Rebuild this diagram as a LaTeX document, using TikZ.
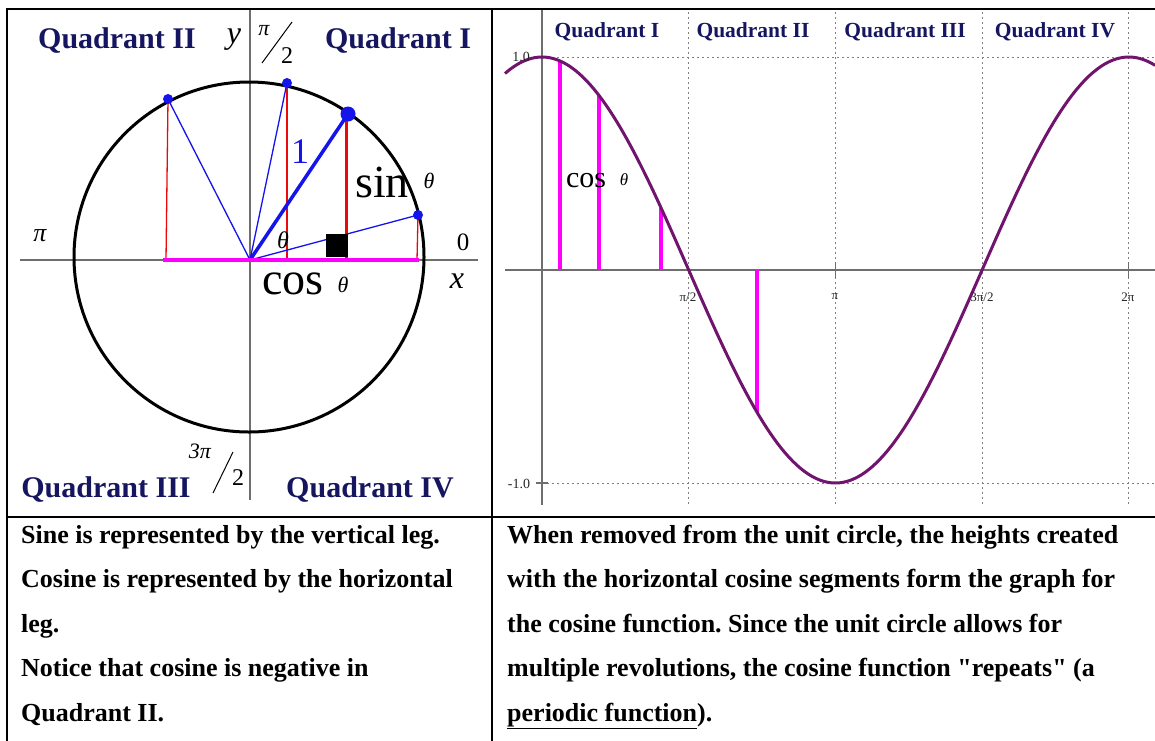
\documentclass[tikz,border=0pt]{standalone}
\usepackage{fontspec}
\setmainfont{Liberation Serif}[Ligatures=TeXOff]
\usetikzlibrary{calc}
\frenchspacing
\definecolor{navy}{RGB}{22,22,96}
\definecolor{axisgray}{RGB}{110,110,110}
\definecolor{blueline}{RGB}{20,20,235}
\definecolor{redline}{RGB}{235,10,10}
\definecolor{mag}{RGB}{255,0,255}
\definecolor{purp}{RGB}{112,20,110}
\tikzset{
  frame/.style={line width=2.2pt,black},
  axisline/.style={line width=1.6pt,axisgray},
  unitcirc/.style={line width=3pt,black},
  ray/.style={line width=1.3pt,blueline},
  bigray/.style={line width=3.5pt,blueline},
  leg/.style={line width=1.3pt,redline},
  bigleg/.style={line width=3pt,redline},
  dot/.style={circle,fill=blueline,inner sep=0pt,minimum size=10pt},
  bigdot/.style={circle,fill=blueline,inner sep=0pt,minimum size=15pt},
  quad/.style={inner sep=0pt,anchor=base,text=navy,font=\fontsize{30}{31}\selectfont\bfseries},
  quadsm/.style={inner sep=0pt,anchor=base,text=navy,font=\fontsize{21.5}{22}\selectfont\bfseries},
  lbl/.style={inner sep=0pt},
  grid/.style={line width=1pt,gray,dash pattern=on 2pt off 3pt},
  cosbar/.style={line width=4.5pt,mag},
  curve/.style={line width=3pt,purp},
  ticklbl/.style={inner sep=0pt,font=\fontsize{13}{13}\selectfont,text=black!85},
  body/.style={inner sep=0pt,anchor=base west,font=\fontsize{26}{27}\selectfont\bfseries\frenchspacing}
}
\begin{document}
\begin{tikzpicture}[x=1pt,y=-1pt]
\useasboundingbox (0,0) rectangle (1155,740);
\fill[white] (0,0) rectangle (1155,740);

% ---------------- left panel ----------------
\coordinate (O) at (250,260);
\coordinate (C) at (249,257);
\draw[axisline] (20,260) -- (478,260);
\draw[axisline] (250,10) -- (250,500);
\draw[unitcirc] (C) circle[radius=175pt];

\coordinate (P1) at (287,83);
\coordinate (P2) at (348,114);
\coordinate (P3) at (418,215);
\coordinate (P4) at (168,99);
\coordinate (F1) at (287,260);
\coordinate (F2) at (346,260);
\coordinate (F3) at (417,260);
\coordinate (F4) at (166,260);
\coordinate (T1) at (287,86);
\coordinate (T2) at (346,118);

\draw[leg] (T1) -- (F1);
\draw[leg] (P3) -- (F3);
\draw[leg] (P4) -- (F4);
\draw[bigleg] (T2) -- (F2);
\draw[ray] (O) -- (P1);
\draw[ray] (O) -- (P3);
\draw[ray] (O) -- (P4);
\draw[bigray] (O) -- (P2);
\coordinate (M1) at (163,260);
\coordinate (M2) at (419,260);
\draw[line width=4.5pt,mag] (M1) -- (M2);
\fill[black] (326,234) rectangle (348,257);
\node[dot] (D1) at (P1) {};
\node[dot] (D3) at (P3) {};
\node[dot] (D4) at (P4) {};
\node[bigdot] (D2) at (P2) {};

\node[quad] (q2) at (117,48) {Quadrant II};
\node[quad] (q1) at (398,48) {Quadrant I};
\node[quad] (q3) at (106,497) {Quadrant III};
\node[quad] (q4) at (370,497) {Quadrant IV};

\node[lbl,font=\fontsize{32}{32}\selectfont\itshape] (ylab) at (234,40) {y};
\node[lbl,font=\fontsize{22}{22}\selectfont\itshape] (pih) at (264,31) {π};
\coordinate (s1a) at (262,63); \coordinate (s1b) at (292,22);
\draw[line width=1pt] (s1a) -- (s1b);
\node[lbl,font=\fontsize{24}{24}\selectfont] (twoh) at (287,56) {2};

\node[lbl,font=\fontsize{26}{26}\selectfont\itshape] (pil) at (40,236) {π};
\node[lbl,font=\fontsize{25}{25}\selectfont] (zero) at (463,242) {0};
\node[lbl,font=\fontsize{32}{32}\selectfont\itshape] (xlab) at (457,281) {x};

\node[lbl,font=\fontsize{22}{22}\selectfont\itshape] (thr) at (200,451) {3π};
\coordinate (s2a) at (213,493); \coordinate (s2b) at (233,452);
\draw[line width=1pt] (s2a) -- (s2b);
\node[lbl,font=\fontsize{24}{24}\selectfont] (twob) at (238,478) {2};

\node[lbl,font=\fontsize{36}{36}\selectfont,text=blueline] (one) at (300,152) {1};
\node[lbl,font=\fontsize{46}{46}\selectfont] (sinlab) at (382,182) {sin};
\node[lbl,font=\fontsize{22}{22}\selectfont\itshape] (sinth) at (429,181) {θ};
\node[lbl,font=\fontsize{46}{46}\selectfont] (coslab) at (293,284) {cos};
\node[lbl,font=\fontsize{22}{22}\selectfont\itshape] (costh) at (343,285) {θ};
\node[lbl,font=\fontsize{24}{24}\selectfont\itshape] (angth) at (283,240) {θ};

% ---------------- right panel ----------------
\coordinate (R0) at (542,270);
\foreach \k/\n in {1/g1,2/g2,3/g3,4/g4}{
  \coordinate (\n t) at ({542+146.7*\k},12);
  \coordinate (\n b) at ({542+146.7*\k},505);
  \draw[grid] (\n t) -- (\n b);
}
\coordinate (h1a) at (542,57); \coordinate (h1b) at (1155,57);
\coordinate (h2a) at (542,483); \coordinate (h2b) at (1155,483);
\draw[grid] (h1a) -- (h1b);
\draw[grid] (h2a) -- (h2b);
\draw[axisline] (542,10) -- (542,505);
\draw[axisline] (505,270) -- (1155,270);
\draw[axisline,line width=1.2pt] (835.4,262) -- (835.4,278);
\draw[axisline,line width=1.2pt] (1128.8,262) -- (1128.8,278);
\draw[axisline,line width=1.2pt] (536,483) -- (548,483);
\draw[axisline,line width=1.2pt] (536,57) -- (548,57);

\foreach \bx/\n in {560/b1,599/b2,661/b3,757/b4}{
  \coordinate (\n a) at (\bx,270);
  \coordinate (\n b) at (\bx,{270-213*cos((\bx-542)/146.7*90)});
  \draw[cosbar] (\n a) -- (\n b);
}
\draw[curve] plot[domain=505:1155,samples=220,smooth] (\x,{270-213*cos((\x-542)/146.7*90)});

\node[quadsm] (rq1) at (607,37) {Quadrant I};
\node[quadsm] (rq2) at (753,37) {Quadrant II};
\node[quadsm] (rq3) at (905,37) {Quadrant III};
\node[quadsm] (rq4) at (1055,37) {Quadrant IV};

\node[ticklbl,font=\fontsize{14}{14}\selectfont] (one0) at (521,57) {1.0};
\node[ticklbl,font=\fontsize{14}{14}\selectfont] (mone0) at (519,484) {-1.0};
\node[ticklbl] (tpi2) at (688,297) {π/2};
\node[ticklbl] (tpi) at (835,297) {π};
\node[ticklbl] (t3pi2) at (982,297) {3π/2};
\node[ticklbl] (t2pi) at (1128,297) {2π};

\node[lbl,font=\fontsize{30}{30}\selectfont] (rcos) at (586,181) {cos};
\node[lbl,font=\fontsize{17}{17}\selectfont\itshape] (rcosth) at (624,180) {θ};

% ---------------- table ----------------
\draw[frame] (7,9) rectangle (1162,748);
\coordinate (vt) at (492,9); \coordinate (vb) at (492,748);
\coordinate (hl) at (7,517); \coordinate (hr) at (1162,517);
\draw[frame] (vt) -- (vb);
\draw[frame] (hl) -- (hr);

\node[body] (l1) at (21,543) {Sine is represented by the vertical leg.};
\node[body] (l2) at (21,587.5) {Cosine is represented by the horizontal};
\node[body] (l3) at (21,632) {leg.};
\node[body] (l4) at (21,676.5) {Notice that cosine is negative in};
\node[body] (l5) at (21,721) {Quadrant II.};

\node[body] (r1) at (507,543) {When removed from the unit circle, the heights created};
\node[body] (r2) at (507,587.5) {with the horizontal cosine segments form the graph for};
\node[body] (r3) at (507,632) {the cosine function. Since the unit circle allows for};
\node[body] (r4) at (507,676.5) {multiple revolutions, the cosine function "repeats" (a};
\node[body] (r5) at (507,721) {\underline{periodic function}).};
\end{tikzpicture}
\end{document}
